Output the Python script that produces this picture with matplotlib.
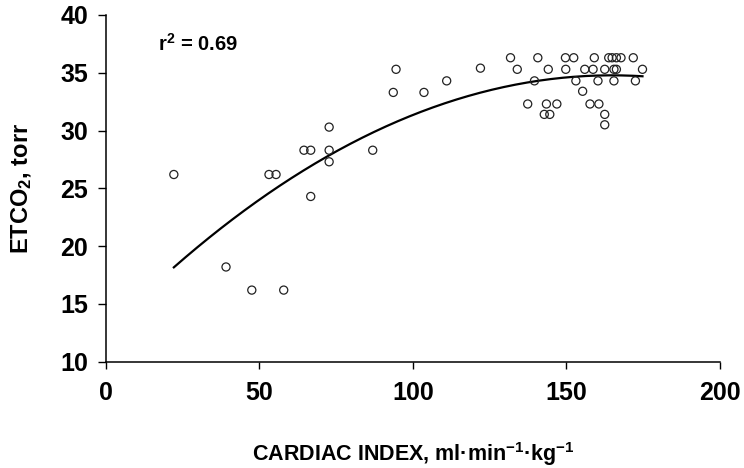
import numpy as np
import matplotlib
matplotlib.use('Agg')
import matplotlib.pyplot as plt

# cardiac index (ml/min/kg) and ETCO2 (torr)
cardiac_index = [22.1, 39.1, 47.5, 53.1, 55.4, 57.9, 64.5, 66.7, 66.7,
                 72.7, 72.7, 72.7, 86.9, 93.6, 94.5, 103.6, 111.0, 122.0,
                 131.8, 140.7, 149.7, 152.4, 159.1, 163.8, 164.9, 166.3, 167.8, 171.8,
                 134.0, 144.1, 149.8, 156.0, 158.7, 162.5, 165.5, 166.3, 174.8,
                 139.6, 153.1, 160.3, 165.5, 172.5,
                 155.3,
                 137.4, 143.5, 146.9, 157.7, 160.6,
                 142.8, 144.6, 162.5,
                 162.5]
etco2 = [26.2, 18.2, 16.2, 26.2, 26.2, 16.2, 28.3, 28.3, 24.3,
         30.3, 28.3, 27.3, 28.3, 33.3, 35.3, 33.3, 34.3, 35.4,
         36.3, 36.3, 36.3, 36.3, 36.3, 36.3, 36.3, 36.3, 36.3, 36.3,
         35.3, 35.3, 35.3, 35.3, 35.3, 35.3, 35.3, 35.3, 35.3,
         34.3, 34.3, 34.3, 34.3, 34.3,
         33.4,
         32.3, 32.3, 32.3, 32.3, 32.3,
         31.4, 31.4, 31.4,
         30.5]
r2_text = 'r$^2$ = 0.69'

plt.rcParams['font.family'] = 'Liberation Sans'
plt.rcParams['font.weight'] = 'bold'
plt.rcParams['axes.labelweight'] = 'bold'
plt.rcParams['mathtext.fontset'] = 'custom'
plt.rcParams['mathtext.rm'] = 'Liberation Sans:bold'
plt.rcParams['mathtext.it'] = 'Liberation Sans:bold'
plt.rcParams['mathtext.bf'] = 'Liberation Sans:bold'

fig = plt.figure(figsize=(7.44, 4.68), dpi=100)
ax = fig.add_axes([0.1425, 0.227, 0.825, 0.741])

x = np.array(cardiac_index)
y = np.array(etco2)
ax.scatter(x, y, s=34, facecolors='none', edgecolors='#222222', linewidths=0.9, zorder=3)

# quadratic regression
coef = np.polyfit(x, y, 2)
xs = np.linspace(x.min(), x.max(), 200)
ax.plot(xs, np.polyval(coef, xs), color='black', lw=1.6, zorder=2)

ax.set_xlim(0, 200)
ax.set_ylim(10, 40)
ax.set_xticks([0, 50, 100, 150, 200])
ax.set_yticks([10, 15, 20, 25, 30, 35, 40])
ax.spines['top'].set_visible(False)
ax.spines['right'].set_visible(False)
ax.spines['left'].set_linewidth(1.1)
ax.spines['bottom'].set_linewidth(1.1)
ax.tick_params(axis='y', direction='out', length=6, width=1, pad=7, labelsize=18)
ax.tick_params(axis='x', direction='out', length=5, width=1, pad=9, labelsize=18)

ax.set_xlabel('CARDIAC INDEX, ml·min$^{-1}$·kg$^{-1}$', fontsize=15.5, fontweight='bold', labelpad=25)
ax.set_ylabel('ETCO$_2$, torr', fontsize=17, fontweight='bold', labelpad=19)
ax.text(17, 37.5, r2_text, fontsize=14.5, va='center', ha='left')

fig.savefig('out.png', dpi=100)
